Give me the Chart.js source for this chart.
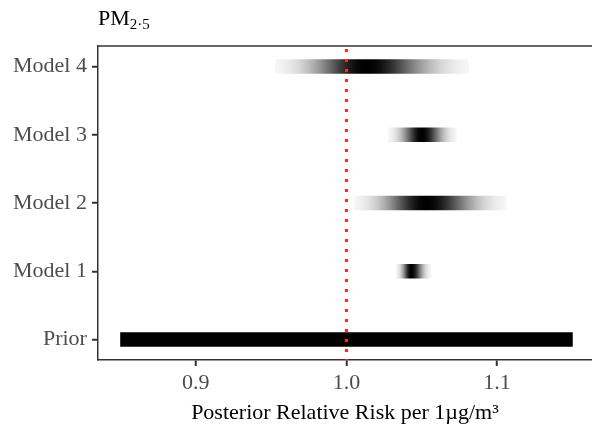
<!DOCTYPE html>
<html>
<head>
  <title>PM2.5 posterior relative risk</title>
  <script src="https://cdn.jsdelivr.net/npm/chart.js"></script>
  <style>
    body { margin: 0; background: #fff; }
  </style>
</head>
<body>
  <canvas id="myChart" width="592" height="426"></canvas>

  <script>
    // rows from top to bottom
    const categories = ['Model 4', 'Model 3', 'Model 2', 'Model 1', 'Prior'];
    const lower = [0.953, 1.028, 1.005, 1.033, 0.85];
    const upper = [1.081, 1.073, 1.106, 1.056, 1.15];
    const peak = [1.013, 1.050, 1.053, 1.043, null]; // prior is flat
    const xTicks = [0.9, 1.0, 1.1];
    const refLine = 1.0;

    const serif = "'Liberation Serif', 'Times New Roman', serif";

    // fade each bar out from its peak, like a density gradient
    function barFill(ctx) {
      const chart = ctx.chart;
      const i = ctx.dataIndex;
      if (!chart.chartArea || peak[i] === null || peak[i] === undefined) return '#000';
      const x = chart.scales.x;
      const x0 = x.getPixelForValue(lower[i]);
      const x1 = x.getPixelForValue(upper[i]);
      const g = chart.ctx.createLinearGradient(x0, 0, x1, 0);
      const sdL = (peak[i] - lower[i]) / 2.6;
      const sdR = (upper[i] - peak[i]) / 2.6;
      for (let k = 0; k <= 40; k++) {
        const t = k / 40;
        const v = lower[i] + t * (upper[i] - lower[i]);
        const z = v < peak[i] ? (v - peak[i]) / sdL : (v - peak[i]) / sdR;
        const a = Math.exp(-0.5 * z * z);
        g.addColorStop(t, 'rgba(0,0,0,' + a.toFixed(3) + ')');
      }
      return g;
    }

    const extras = {
      id: 'extras',
      afterDatasetsDraw(chart) {
        const c = chart.ctx;
        const area = chart.chartArea;
        const px = Math.round(chart.scales.x.getPixelForValue(refLine)) + 0.5;
        c.save();
        c.strokeStyle = '#ff2a1f';
        c.lineWidth = 3;
        c.setLineDash([3, 7]);
        c.beginPath();
        c.moveTo(px, area.top + 3);
        c.lineTo(px, area.bottom);
        c.stroke();
        c.restore();
      },
      afterDraw(chart) {
        const c = chart.ctx;
        const area = chart.chartArea;
        c.save();
        // top panel border
        c.strokeStyle = '#333';
        c.lineWidth = 1.5;
        c.beginPath();
        c.moveTo(area.left, area.top);
        c.lineTo(chart.width, area.top);
        c.stroke();
        // title PM2·5
        c.fillStyle = '#000';
        c.textBaseline = 'alphabetic';
        c.font = '22px ' + serif;
        c.fillText('PM', 98, 25);
        const w = c.measureText('PM').width;
        c.font = '15px ' + serif;
        c.fillText('2·5', 98 + w, 29);
        c.restore();
      }
    };

    const tickGrid = {
      offset: false,
      drawOnChartArea: false,
      drawTicks: true,
      tickLength: 6,
      color: '#333',
      tickColor: '#333',
      lineWidth: 1.5,
      tickWidth: 2
    };

    const ctx = document.getElementById('myChart').getContext('2d');
    new Chart(ctx, {
      type: 'bar',
      data: {
        datasets: [{
          data: categories.map((c, i) => ({ y: i, x: [lower[i], upper[i]] })),
          backgroundColor: barFill,
          borderWidth: 0,
          borderSkipped: false,
          barThickness: 14
        }]
      },
      options: {
        indexAxis: 'y',
        responsive: false,
        animation: false,
        devicePixelRatio: 1,
        layout: { padding: { top: 46, left: 8, right: 0, bottom: 0 } },
        plugins: { legend: { display: false }, tooltip: { enabled: false } },
        scales: {
          x: {
            type: 'linear',
            min: 0.835,
            max: 1.163,
            afterBuildTicks: axis => { axis.ticks = xTicks.map(v => ({ value: v })); },
            afterFit: axis => { axis.height = 66; },
            ticks: {
              color: '#4d4d4d',
              font: { family: serif, size: 22 },
              padding: 4,
              callback: v => v.toFixed(1)
            },
            grid: tickGrid,
            border: { display: true, color: '#333', width: 1.5 },
            title: {
              display: true,
              text: 'Posterior Relative Risk per 1µg/m³',
              color: '#000',
              font: { family: serif, size: 22, lineHeight: 1.0 },
              padding: { top: 4, bottom: 2 }
            }
          },
          y: {
            type: 'linear',
            reverse: true,
            offset: false,
            min: -0.3,
            max: 4.3,
            afterBuildTicks: axis => { axis.ticks = categories.map((c, i) => ({ value: i })); },
            ticks: {
              color: '#4d4d4d',
              font: { family: serif, size: 22 },
              padding: 5,
              callback: v => categories[v]
            },
            grid: tickGrid,
            border: { display: true, color: '#333', width: 1.5 }
          }
        }
      },
      plugins: [extras]
    });
  </script>
</body>
</html>
